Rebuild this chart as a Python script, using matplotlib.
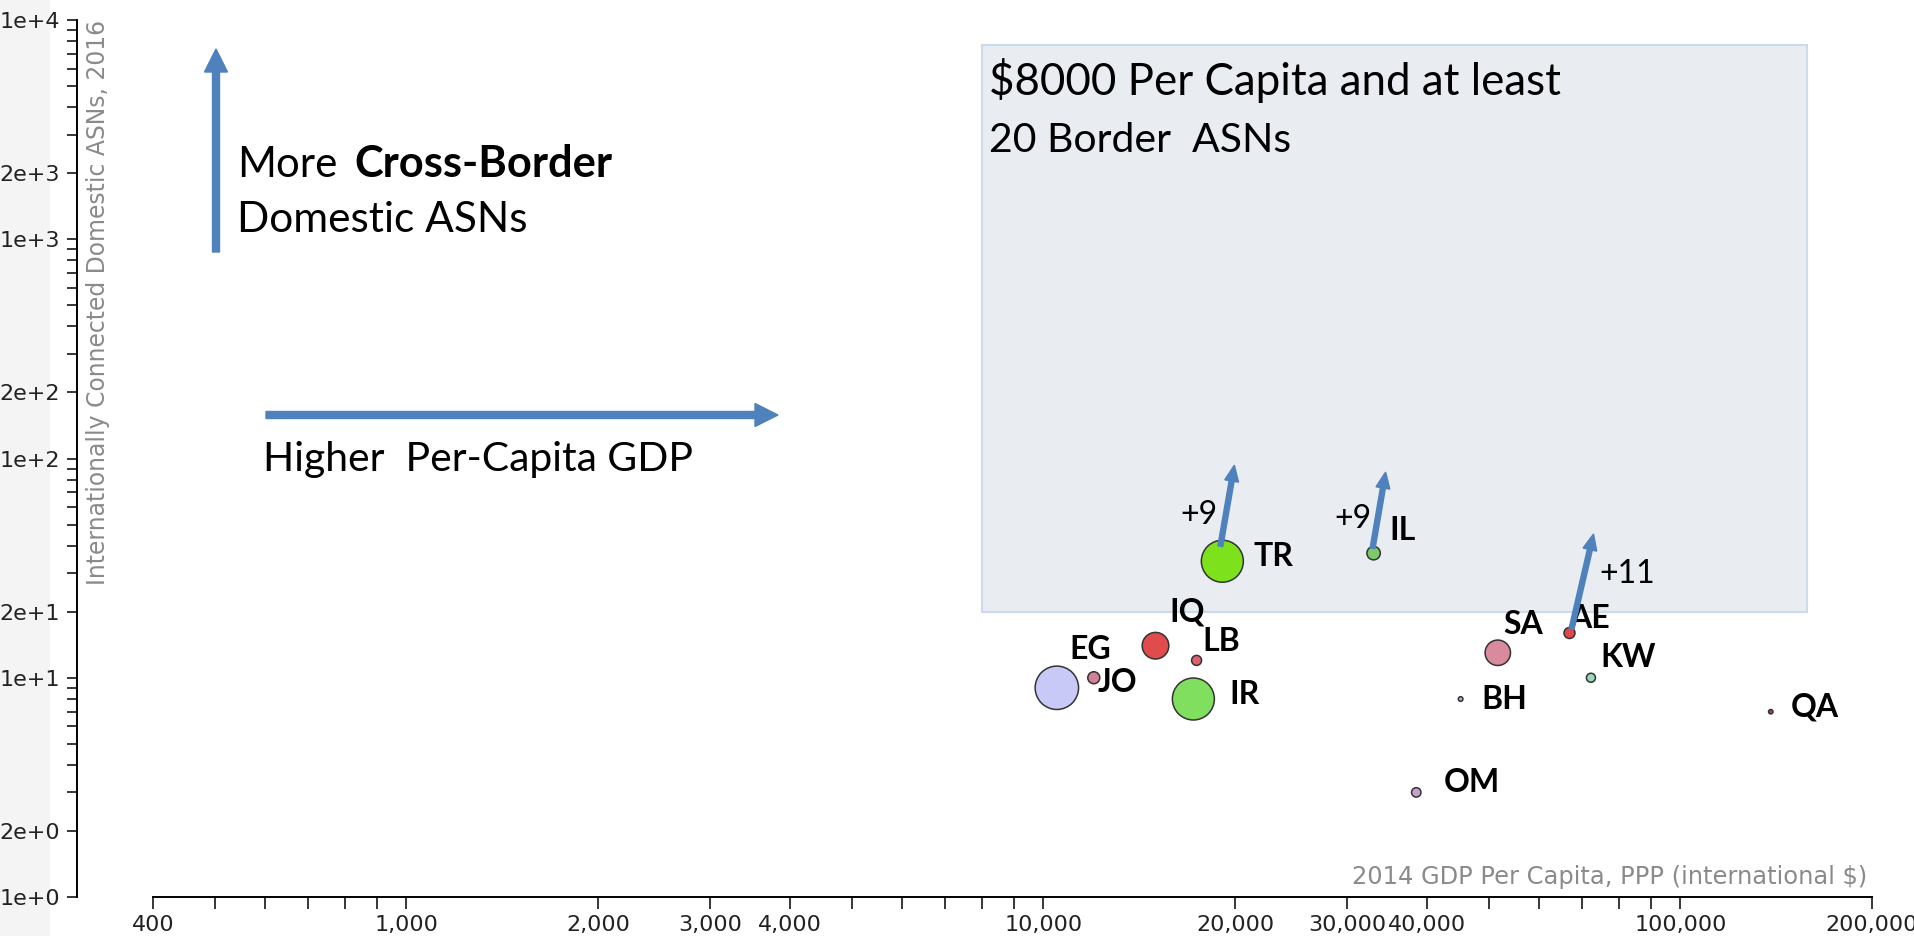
import matplotlib
matplotlib.use("Agg")
import matplotlib.pyplot as plt
from matplotlib.patches import FancyArrow, Rectangle
from matplotlib.transforms import IdentityTransform
from matplotlib.ticker import FixedLocator, FixedFormatter, NullFormatter

W, H = 1915, 936

# --- данные ---
countries = ["EG", "JO", "IQ", "LB", "IR", "TR", "IL", "OM", "BH", "SA", "AE", "KW", "QA"]
gdp_per_capita = [10500, 12000, 15000, 17400, 17200, 19100, 33000, 38500, 45200, 51700, 67000, 72400, 138700]
border_asns = [9, 10, 14, 12, 8, 34, 37, 3, 8, 13, 16, 10, 7]
bubble_radius = [21.7, 6, 13.3, 5, 21, 21, 6.7, 4.7, 2.3, 12.7, 5.5, 4.5, 2.2]
bubble_colors = ["#c9c9f7", "#d27f98", "#e04b4b", "#e0606e", "#80df5e", "#7de21c", "#7cc86a",
                 "#c7a0d2", "#aab4e0", "#d98a9c", "#e04646", "#9ad8bc", "#9a4b5c"]
growth = {"TR": "+9", "IL": "+9", "AE": "+11"}

x_ticks = [400, 1000, 2000, 3000, 4000, 10000, 20000, 30000, 40000, 100000, 200000]
x_tick_labels = ["400", "1,000", "2,000", "3,000", "4,000", "10,000", "20,000", "30,000", "40,000", "100,000", "200,000"]
x_minor = [500, 600, 700, 800, 900, 5000, 6000, 7000, 8000, 9000, 50000, 60000, 70000, 80000, 90000]
y_ticks = [1, 2, 10, 20, 100, 200, 1000, 2000, 10000]
y_tick_labels = ["1e+0", "2e+0", "1e+1", "2e+1", "1e+2", "2e+2", "1e+3", "2e+3", "1e+4"]
y_minor = [m * 10 ** d for d in range(4) for m in range(3, 10)]

# смещения подписей от центра пузыря, пиксели
label_offsets = {"EG": (33, 38), "JO": (24, -5), "IQ": (32, 34), "LB": (25, 19), "IR": (51, 4),
                 "TR": (51, 5), "IL": (29, 23), "OM": (56, 10), "BH": (44, -1), "SA": (25, 28),
                 "AE": (20, 14), "KW": (37, 20), "QA": (44, 5)}
# (начало стрелки, конец стрелки, позиция подписи)
growth_offsets = {"TR": ((-2, 15), (12, 96), (-23, 46)),
                  "IL": ((-1, 5), (12, 81), (-21, 34)),
                  "AE": ((2, 4), (24, 99), (58, 59))}

ARROW_BLUE = "#4f81bd"
NOTE_FONT = "Lato"


def fx(x):
    return x / W


def fy(y):
    return 1 - y / H


fig = plt.figure(figsize=(W / 100, H / 100), dpi=100)
fig.patches.append(Rectangle((0, 0), 50 / W, 1, transform=fig.transFigure,
                             facecolor="#f4f4f4", edgecolor="none", zorder=-5))

ax = fig.add_axes([fx(153), fy(897), (1872 - 153) / W, (897 - 20) / H])
ax.set_zorder(2)
ax.patch.set_alpha(0)
ax.set_xscale("log")
ax.set_yscale("log")
ax.set_xlim(400, 200000)
ax.set_ylim(1, 10000)

for side in ("top", "right"):
    ax.spines[side].set_visible(False)
ax.spines["left"].set_position(("outward", 76 * 0.72))
ax.spines["left"].set_linewidth(1.4)
ax.spines["bottom"].set_linewidth(1.4)

ax.xaxis.set_major_locator(FixedLocator(x_ticks))
ax.xaxis.set_major_formatter(FixedFormatter(x_tick_labels))
ax.xaxis.set_minor_locator(FixedLocator(x_minor))
ax.xaxis.set_minor_formatter(NullFormatter())
ax.yaxis.set_major_locator(FixedLocator(y_ticks))
ax.yaxis.set_major_formatter(FixedFormatter(y_tick_labels))
ax.yaxis.set_minor_locator(FixedLocator(y_minor))
ax.yaxis.set_minor_formatter(NullFormatter())
ax.tick_params(axis="x", which="both", length=8.6, width=1.1, pad=4.3, labelsize=16, labelcolor="#222222")
ax.tick_params(axis="y", which="both", length=7.2, width=1.1, pad=5, labelsize=16, labelcolor="#222222")

# область "$8000 и 20 ASN"
ax.add_patch(Rectangle((8000, 20), 158000 - 8000, 7700 - 20, facecolor="#e9edf1",
                       edgecolor="#cbdbec", linewidth=1.5, zorder=1))

sizes = [(2 * r * 0.72) ** 2 for r in bubble_radius]
ax.scatter(gdp_per_capita, border_asns, s=sizes, c=bubble_colors, edgecolors="#333333",
           linewidths=1.1, zorder=3)

for code, x, y in zip(countries, gdp_per_capita, border_asns):
    ax.annotate(code, (x, y), xytext=label_offsets[code], textcoords="offset pixels",
                ha="center", va="center", fontsize=23, fontweight="bold", family=NOTE_FONT, zorder=4)

# стрелки роста
for code, x, y in zip(countries, gdp_per_capita, border_asns):
    if code not in growth:
        continue
    px, py = ax.transData.transform((x, y))
    (sx, sy), (tx, ty), (lx, ly) = growth_offsets[code]
    fig.add_artist(FancyArrow(px + sx, py + sy, tx - sx, ty - sy, width=5, head_width=14,
                              head_length=16, length_includes_head=True, color=ARROW_BLUE,
                              transform=IdentityTransform(), zorder=5))
    ax.annotate(growth[code], (x, y), xytext=(lx, ly), textcoords="offset pixels",
                ha="center", va="center", fontsize=23, family=NOTE_FONT, zorder=4)

renderer = fig.canvas.get_renderer()


def fit_width(text, target):
    w = text.get_window_extent(renderer).width
    text.set_fontsize(text.get_fontsize() * target / w)


def fit_height(text, target):
    h = text.get_window_extent(renderer).height
    text.set_fontsize(text.get_fontsize() * target / h)


# подписи осей
ylab = fig.text(fx(98), fy(20), "Internationally Connected Domestic ASNs, 2016", rotation=90,
                ha="center", va="top", color="#8a8a8a", fontsize=15)
fit_height(ylab, 567)
xlab = fig.text(fx(1867), fy(877), "2014 GDP Per Capita, PPP (international $)",
                ha="right", va="center", color="#8a8a8a", fontsize=15)
fit_width(xlab, 515)

# пояснительные стрелки и надписи
fig.add_artist(FancyArrow(216, H - 252, 0, 252 - 49, width=7, head_width=23, head_length=23,
                          length_includes_head=True, color=ARROW_BLUE, transform=IdentityTransform()))
fig.add_artist(FancyArrow(266, H - 415, 778 - 266, 0, width=7, head_width=23, head_length=23,
                          length_includes_head=True, color=ARROW_BLUE, transform=IdentityTransform()))

t = fig.text(fx(237), fy(177), "More", ha="left", va="baseline", fontsize=30, family=NOTE_FONT)
fit_width(t, 337 - 237)
t = fig.text(fx(354), fy(177), "Cross-Border", ha="left", va="baseline", fontsize=30,
             family=NOTE_FONT, fontweight="bold")
fit_width(t, 611 - 354)
t = fig.text(fx(237), fy(232), "Domestic ASNs", ha="left", va="baseline", fontsize=30, family=NOTE_FONT)
fit_width(t, 527 - 237)
t = fig.text(fx(263), fy(471), "Higher  Per-Capita GDP", ha="left", va="baseline", fontsize=30, family=NOTE_FONT)
fit_width(t, 692 - 263)
t = fig.text(fx(989), fy(95), "$8000 Per Capita and at least", ha="left", va="baseline", fontsize=30, family=NOTE_FONT)
fit_width(t, 1560 - 989)
t = fig.text(fx(989), fy(152), "20 Border  ASNs", ha="left", va="baseline", fontsize=30, family=NOTE_FONT)
fit_width(t, 1291 - 989)

fig.savefig("out.png", dpi=100)
